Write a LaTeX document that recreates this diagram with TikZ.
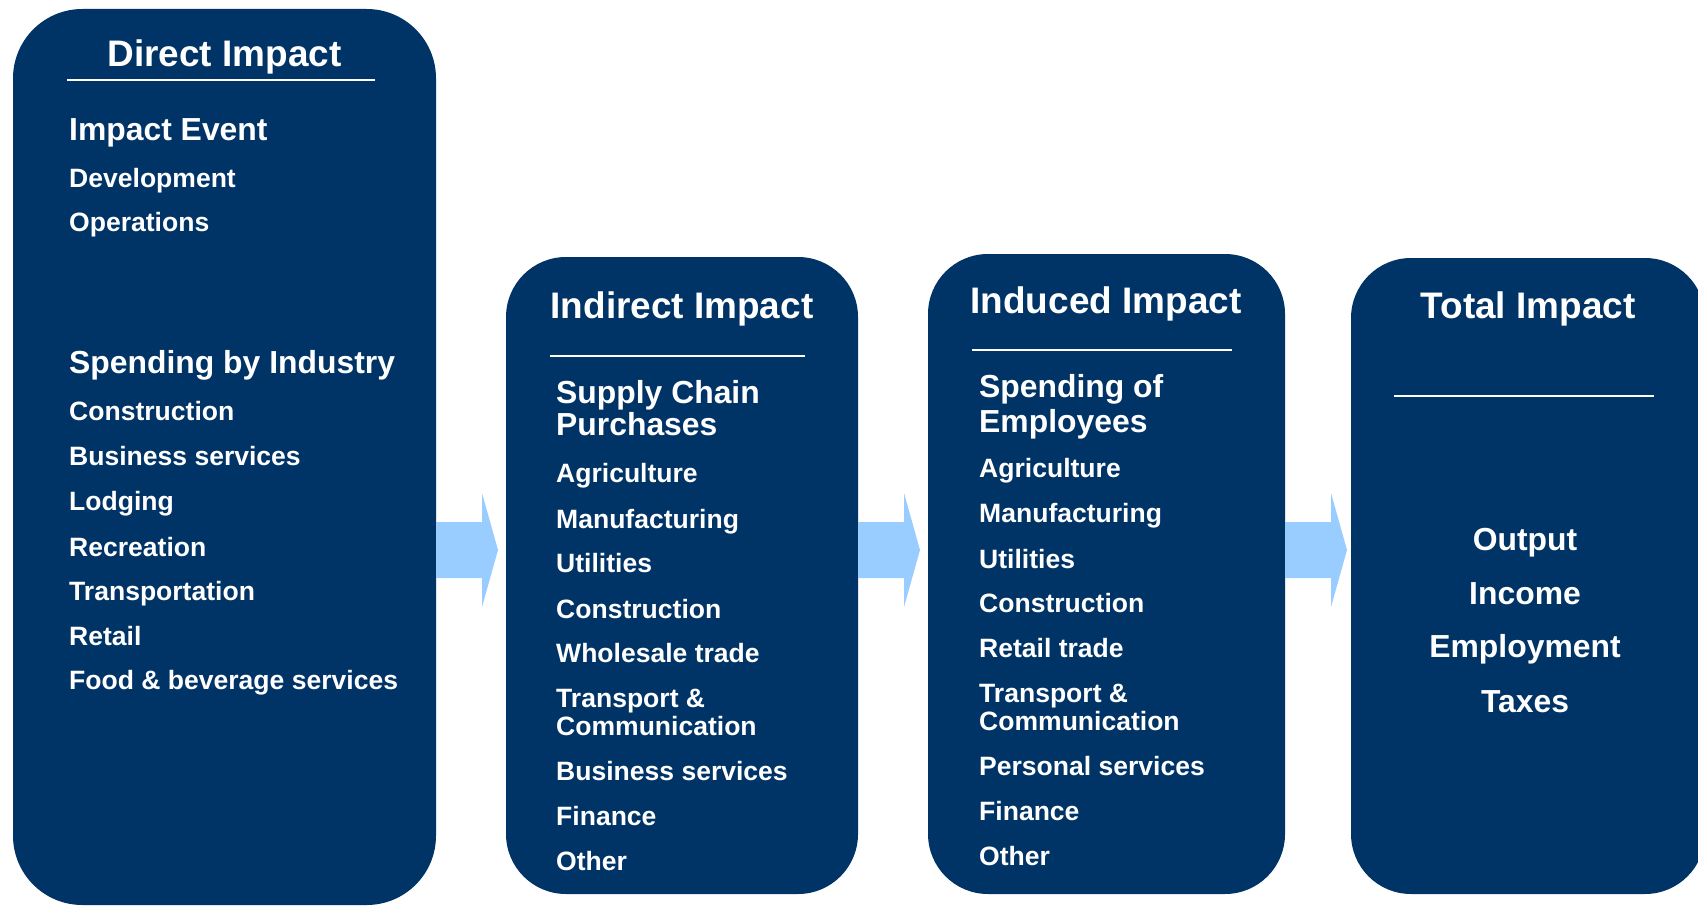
\documentclass[tikz,border=0pt]{standalone}
\usepackage{fontspec}
\setmainfont{Liberation Sans}
\definecolor{navy}{RGB}{0,51,102}
\definecolor{arrowblue}{RGB}{153,204,255}
\newcommand{\flowarrow}[1]{\fill[arrowblue] (#1) ++(0,-28) -- ++(46,0) -- ++(0,-29) -- ++(16,57) -- ++(-16,57) -- ++(0,-29) -- ++(-46,0) -- cycle;}

\begin{document}
\begin{tikzpicture}[x=0.75pt, y=-0.75pt,
	impactbox/.style={fill=navy, rounded corners=45pt, inner sep=0pt, outer sep=0pt},
	boxtitle/.style={text=white, anchor=base, font=\bfseries\fontsize{27.7pt}{30pt}\selectfont},
	boxhead/.style={text=white, anchor=base west, font=\bfseries\fontsize{23.9pt}{26pt}\selectfont},
	boxitem/.style={text=white, anchor=base west, font=\bfseries\fontsize{19.9pt}{22pt}\selectfont},
	titlerule/.style={white, line width=1.4pt}]
		\useasboundingbox (0,0) rectangle (1698,906);
		\clip (0,0) rectangle (1698,906);
		
		%%%%% BOXES %%%%%
		\node[impactbox, rounded corners=52pt, minimum width=317.25pt, minimum height=672pt] (direct) at (224.5,457) {};
		\node[impactbox, minimum width=264pt, minimum height=477.75pt] (indirect) at (682,575.5) {};
		\node[impactbox, minimum width=267.75pt, minimum height=480pt] (induced) at (1106.5,574) {};
		\node[impactbox, minimum width=265.5pt, minimum height=477pt] (total) at (1528,576) {};
		
		%%%%% ARROWS %%%%%
		\coordinate (arr1) at (direct.east |- 0,550);
		\coordinate (arr2) at (indirect.east |- 0,550);
		\coordinate (arr3) at (induced.east |- 0,550);
		\flowarrow{arr1}
		\flowarrow{arr2}
		\flowarrow{arr3}
		
		%%%%% DIRECT %%%%%
		\node[boxtitle] (directtitle) at (224.5,67) {Direct Impact};
		\draw[titlerule] (67,80) -- (375,80);
		\node[boxhead] (event) at (64.5,140) {Impact Event};
		\node[boxhead] (spending) at (64.5,373) {Spending by Industry};
		\foreach \y/\txt in {187/Development, 231/Operations, 420/Construction, 465/Business services, 510/Lodging, 556/Recreation, 600/Transportation, 645/Retail, 689/Food \& beverage services}
			\node[boxitem] (dir-\y) at (64.5,\y) {\txt};
		
		%%%%% INDIRECT %%%%%
		\node[boxtitle] (indirecttitle) at (682,318) {Indirect Impact};
		\draw[titlerule] (550,356) -- (805,356);
		\node[boxhead] (supply) at (551.5,403) {Supply Chain};
		\node[boxhead] (purchases) at (551.5,435) {Purchases};
		\foreach \y/\txt in {482/Agriculture, 528/Manufacturing, 572/Utilities, 618/Construction, 662/Wholesale trade, 707/Transport \&, 735/Communication, 780/Business services, 825/Finance, 870/Other}
			\node[boxitem] (ind-\y) at (551.5,\y) {\txt};
		
		%%%%% INDUCED %%%%%
		\node[boxtitle] (inducedtitle) at (1106,313) {Induced Impact};
		\draw[titlerule] (972,350) -- (1232,350);
		\node[boxhead] (spendingof) at (974.5,397) {Spending of};
		\node[boxhead] (employees) at (974.5,432) {Employees};
		\foreach \y/\txt in {477/Agriculture, 522/Manufacturing, 568/Utilities, 612/Construction, 657/Retail trade, 702/Transport \&, 730/Communication, 775/Personal services, 820/Finance, 865/Other}
			\node[boxitem] (indu-\y) at (974.5,\y) {\txt};
		
		%%%%% TOTAL %%%%%
		\node[boxtitle] (totaltitle) at (1528,318) {Total Impact};
		\draw[titlerule] (1394,396) -- (1654,396);
		\foreach \y/\txt in {550/Output, 604/Income, 657/Employment, 712/Taxes}
			\node[boxhead, anchor=base] (tot-\y) at (1525,\y) {\txt};
		
	\end{tikzpicture}
\end{document}
